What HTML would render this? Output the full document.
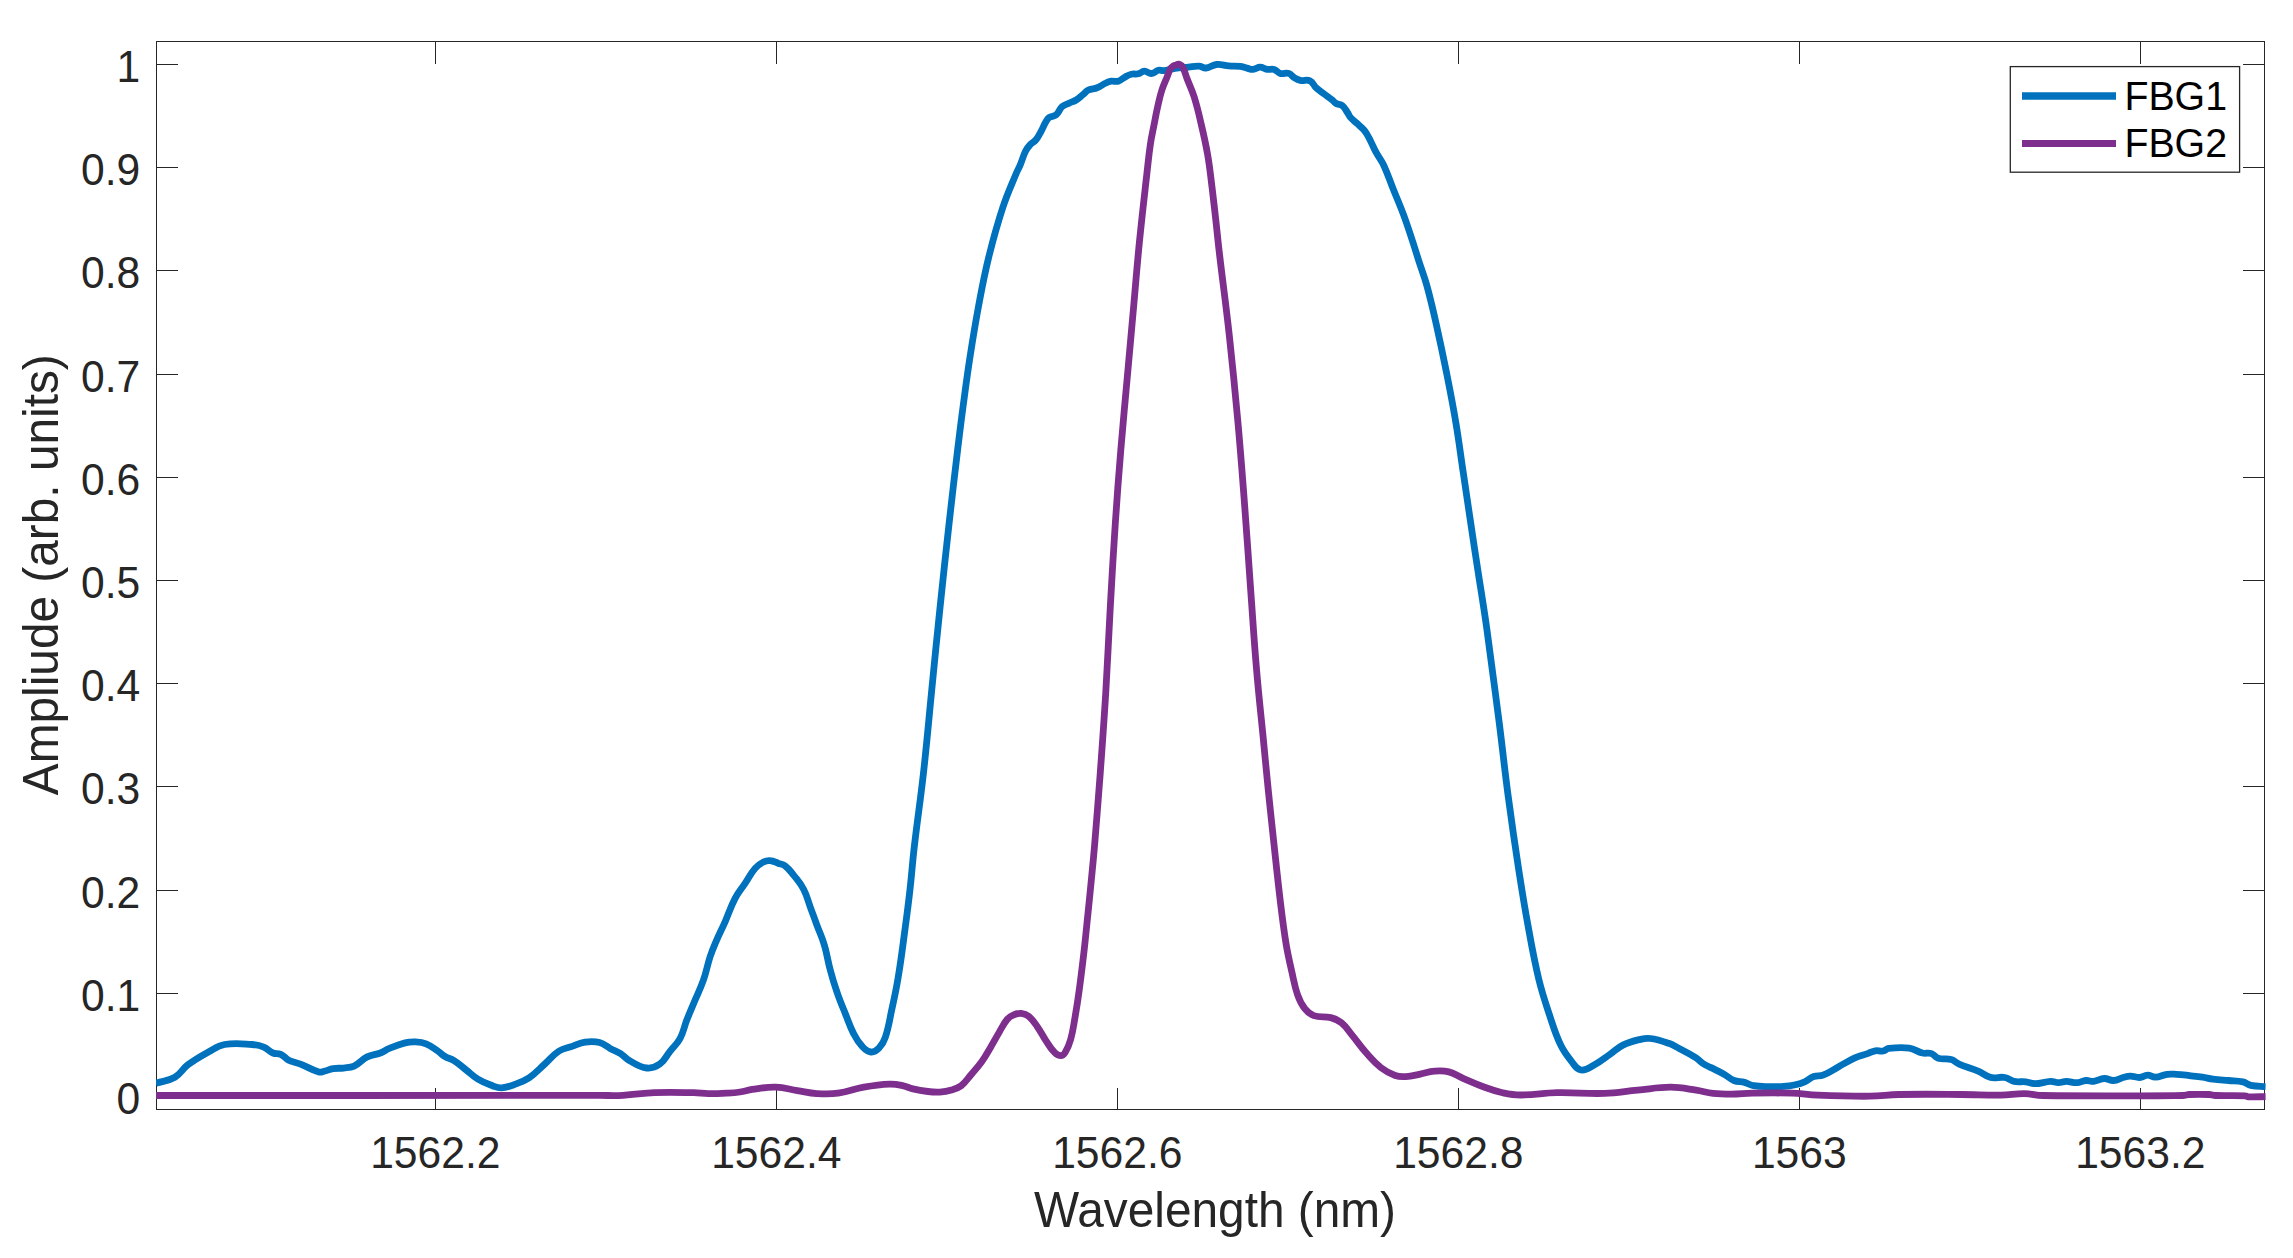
<!DOCTYPE html>
<html lang="en"><head><meta charset="utf-8"><title>FBG spectra</title>
<style>html,body{margin:0;padding:0;background:#fff;overflow:hidden;}svg{display:block;}text{font-family:"Liberation Sans",sans-serif;}</style></head><body>
<svg width="2293" height="1258" viewBox="0 0 2293 1258">
<rect x="0" y="0" width="2293" height="1258" fill="#ffffff"/>
<g stroke="#262626" stroke-width="1" fill="none" shape-rendering="crispEdges">
<rect x="156.5" y="41.5" width="2108.0" height="1068.0"/>
<path d="M435.3 1109.5 V1087.5 M435.3 41.5 V63.5"/>
<path d="M776.3 1109.5 V1087.5 M776.3 41.5 V63.5"/>
<path d="M1117.3 1109.5 V1087.5 M1117.3 41.5 V63.5"/>
<path d="M1458.3 1109.5 V1087.5 M1458.3 41.5 V63.5"/>
<path d="M1799.3 1109.5 V1087.5 M1799.3 41.5 V63.5"/>
<path d="M2140.3 1109.5 V1087.5 M2140.3 41.5 V63.5"/>
<path d="M156.5 1096.5 H178.0 M2264.5 1096.5 H2243.0"/>
<path d="M156.5 993.3 H178.0 M2264.5 993.3 H2243.0"/>
<path d="M156.5 890.1 H178.0 M2264.5 890.1 H2243.0"/>
<path d="M156.5 786.9 H178.0 M2264.5 786.9 H2243.0"/>
<path d="M156.5 683.7 H178.0 M2264.5 683.7 H2243.0"/>
<path d="M156.5 580.5 H178.0 M2264.5 580.5 H2243.0"/>
<path d="M156.5 477.3 H178.0 M2264.5 477.3 H2243.0"/>
<path d="M156.5 374.1 H178.0 M2264.5 374.1 H2243.0"/>
<path d="M156.5 270.9 H178.0 M2264.5 270.9 H2243.0"/>
<path d="M156.5 167.7 H178.0 M2264.5 167.7 H2243.0"/>
<path d="M156.5 64.5 H178.0 M2264.5 64.5 H2243.0"/>
</g>
<clipPath id="c"><rect x="156.0" y="41.5" width="2109.6" height="1068.0"/></clipPath>
<g clip-path="url(#c)" fill="none" stroke-width="6.8" stroke-linejoin="round" stroke-linecap="butt">
<path stroke="#0072BD" d="M155.5 1083.6 C155.9 1083.4 156.1 1083.2 156.5 1083.1 C163.5 1080.8 168.2 1081.1 174.9 1077.2 C181.1 1073.6 182.2 1069.1 187.9 1064.8 C195.8 1058.9 200.2 1056.5 208.9 1051.7 C214.9 1048.4 217.8 1045.6 224.6 1044.5 C235.5 1042.7 241.1 1043.8 252.1 1044.5 C256.9 1044.8 259.4 1045.3 263.8 1047.1 C267.8 1048.7 269.0 1051.3 273.0 1053.0 C275.9 1054.2 277.9 1053.0 280.8 1054.3 C284.4 1055.9 285.2 1058.4 288.7 1060.2 C293.2 1062.4 295.9 1062.3 300.5 1064.1 C307.9 1067.0 311.2 1069.7 318.8 1072.0 C320.8 1072.6 322.0 1071.8 324.0 1071.3 C327.7 1070.4 329.4 1069.3 333.2 1068.7 C337.3 1068.0 339.5 1068.5 343.6 1068.0 C347.8 1067.5 350.2 1067.9 354.1 1066.1 C359.9 1063.4 361.5 1059.8 367.2 1056.9 C372.1 1054.5 375.2 1055.0 380.3 1053.0 C384.1 1051.5 385.6 1049.9 389.4 1048.4 C395.6 1045.9 398.6 1044.5 405.1 1042.9 C409.2 1041.9 411.4 1041.7 415.6 1041.9 C419.9 1042.1 422.2 1042.2 426.1 1043.8 C431.2 1045.9 433.2 1047.9 437.8 1051.0 C440.8 1053.0 441.9 1054.7 445.0 1056.5 C448.6 1058.6 450.9 1058.6 454.4 1060.8 C459.4 1064.0 461.5 1066.3 466.2 1070.0 C470.9 1073.7 472.8 1076.1 477.9 1079.2 C483.3 1082.5 486.4 1083.5 492.3 1085.7 C495.9 1087.0 497.7 1088.0 501.5 1087.9 C506.4 1087.7 508.7 1086.7 513.3 1085.0 C519.8 1082.6 523.2 1081.6 529.0 1077.8 C535.9 1073.2 538.5 1069.6 544.7 1064.1 C550.5 1058.9 552.6 1055.2 559.1 1051.0 C563.7 1048.0 566.9 1048.2 572.1 1046.4 C577.3 1044.6 579.7 1042.9 585.2 1042.1 C590.9 1041.3 594.0 1041.1 599.6 1042.5 C604.3 1043.7 605.8 1046.1 610.1 1048.4 C614.2 1050.6 616.6 1051.1 620.6 1053.6 C624.5 1056.1 625.6 1058.6 629.7 1060.8 C636.2 1064.4 639.4 1067.2 646.7 1068.0 C652.1 1068.6 655.4 1067.3 659.8 1064.1 C665.1 1060.3 665.9 1056.4 670.0 1051.3 C674.0 1046.2 676.9 1044.3 680.0 1038.6 C683.7 1031.7 683.9 1027.6 686.7 1020.3 C689.9 1012.2 691.7 1008.3 695.0 1000.3 C698.4 992.3 700.5 988.4 703.4 980.2 C706.6 971.0 707.1 966.1 710.1 956.8 C712.1 950.7 713.4 947.7 715.9 941.8 C719.4 933.7 721.5 929.9 725.1 921.8 C729.2 912.5 730.4 907.4 735.1 898.4 C738.4 892.0 741.1 889.4 745.1 883.4 C749.1 877.4 750.4 873.9 755.1 868.4 C757.9 865.2 759.7 863.9 763.5 862.0 C765.9 860.8 767.5 860.4 770.2 860.7 C773.7 861.0 775.2 862.3 778.5 863.4 C781.2 864.3 782.9 864.2 785.2 865.9 C789.1 868.9 790.4 871.1 793.5 875.0 C797.8 880.5 800.4 883.0 803.6 889.2 C807.1 895.9 807.6 899.7 810.2 906.8 C812.9 914.1 814.2 917.8 816.9 925.1 C819.9 933.1 822.0 937.0 824.4 945.2 C827.3 955.0 827.6 960.3 830.3 970.2 C832.6 979.0 833.9 983.3 836.9 991.9 C839.9 1000.7 841.8 1005.0 845.3 1013.6 C848.5 1021.6 849.7 1025.9 853.6 1033.6 C856.4 1039.0 857.8 1041.8 862.0 1046.2 C864.9 1049.3 866.7 1051.5 871.0 1052.0 C874.5 1052.4 876.4 1050.7 878.9 1048.2 C882.4 1044.6 883.7 1042.2 885.3 1037.4 C888.9 1026.5 889.4 1020.7 891.8 1009.5 C894.6 996.7 896.1 990.3 898.2 977.3 C901.2 959.4 902.2 950.3 904.6 932.3 C906.9 915.2 908.1 906.6 910.0 889.4 C912.0 871.7 912.4 862.7 914.5 845.0 C917.8 816.4 920.2 802.3 923.4 773.7 C927.1 740.4 928.4 723.7 931.7 690.3 C935.0 656.9 936.6 640.2 940.1 606.8 C943.6 573.4 945.4 556.7 949.1 523.4 C952.4 494.0 954.1 479.3 957.6 450.0 C959.7 432.8 960.7 424.2 963.0 407.1 C965.7 387.0 966.9 377.0 970.0 357.0 C973.1 337.0 974.7 326.9 978.4 307.0 C982.2 286.9 983.9 276.8 988.8 256.9 C993.8 236.7 996.5 226.7 1003.0 206.9 C1007.5 193.3 1010.7 186.8 1016.2 173.5 C1017.6 170.0 1018.8 168.5 1020.2 165.0 C1022.5 159.5 1022.9 156.5 1025.5 151.2 C1026.8 148.5 1027.8 147.3 1029.8 145.1 C1032.0 142.7 1033.9 142.3 1036.0 139.8 C1038.6 136.7 1039.3 134.7 1041.2 131.1 C1043.1 127.6 1043.6 125.7 1045.6 122.3 C1046.8 120.2 1047.2 118.9 1049.1 117.5 C1051.5 115.8 1053.8 116.8 1056.1 114.9 C1059.3 112.3 1059.1 109.4 1062.2 106.6 C1064.5 104.5 1066.4 104.4 1069.2 103.1 C1072.0 101.8 1073.6 101.6 1076.2 100.0 C1079.2 98.1 1080.4 96.7 1083.2 94.4 C1085.3 92.7 1085.9 91.2 1088.4 90.0 C1091.7 88.5 1093.8 89.1 1097.2 87.8 C1100.9 86.3 1102.3 84.7 1105.9 83.0 C1107.9 82.0 1109.0 81.5 1111.2 81.2 C1114.0 80.8 1115.5 82.0 1118.2 81.2 C1121.3 80.2 1122.3 78.4 1125.2 76.9 C1127.6 75.6 1128.7 74.8 1131.3 74.2 C1134.0 73.6 1135.6 74.4 1138.3 73.8 C1140.9 73.2 1141.7 71.3 1144.4 71.2 C1147.3 71.1 1148.5 73.7 1151.4 73.5 C1154.5 73.3 1155.4 71.0 1158.4 70.3 C1160.4 69.8 1161.5 70.8 1163.6 70.6 C1168.2 70.0 1170.4 68.9 1175.0 68.3 C1180.4 67.5 1183.1 67.6 1188.5 67.1 C1192.7 66.7 1194.8 66.0 1199.0 66.2 C1201.9 66.3 1203.1 68.3 1206.0 68.0 C1210.4 67.6 1212.1 64.9 1216.5 64.5 C1221.4 64.0 1223.8 65.5 1228.7 65.9 C1233.2 66.3 1235.5 65.9 1240.0 66.4 C1242.9 66.7 1244.2 67.5 1247.0 68.1 C1249.4 68.7 1250.6 69.6 1253.1 69.4 C1256.0 69.2 1257.2 67.2 1260.1 67.2 C1263.0 67.2 1264.2 68.9 1267.1 69.4 C1269.9 69.8 1271.4 68.6 1274.1 69.4 C1276.9 70.3 1277.4 72.6 1280.2 73.4 C1283.6 74.3 1285.6 72.5 1289.0 73.5 C1291.6 74.3 1291.9 76.3 1294.2 77.7 C1296.5 79.1 1297.7 79.9 1300.3 80.4 C1304.1 81.1 1306.5 79.2 1310.0 80.8 C1313.4 82.4 1313.4 85.3 1316.1 87.8 C1319.0 90.5 1320.8 91.5 1324.0 93.9 C1327.1 96.2 1328.8 97.2 1331.8 99.6 C1333.6 101.1 1334.2 102.3 1336.2 103.5 C1338.4 104.8 1340.3 104.1 1342.3 105.7 C1345.0 107.9 1345.6 109.8 1347.6 112.7 C1348.8 114.4 1348.8 115.6 1350.2 117.1 C1352.7 120.0 1354.4 121.0 1357.2 123.6 C1360.0 126.2 1361.7 127.3 1364.2 130.2 C1366.3 132.7 1367.0 134.3 1368.6 137.2 C1369.8 139.2 1370.2 140.3 1371.2 142.4 C1373.3 146.6 1374.1 148.8 1376.4 152.9 C1379.1 157.8 1381.2 159.9 1383.6 165.0 C1387.9 174.3 1389.3 179.2 1393.1 188.7 C1397.3 199.2 1399.7 204.3 1403.6 214.9 C1407.4 225.2 1409.0 230.5 1412.5 241.0 C1415.0 248.6 1416.1 252.4 1418.5 260.0 C1421.7 270.0 1423.9 274.9 1426.7 285.0 C1430.9 300.2 1432.6 308.0 1436.1 323.4 C1440.6 343.4 1442.7 353.4 1446.7 373.5 C1450.7 393.5 1452.7 403.4 1456.0 423.5 C1459.3 443.5 1460.4 453.6 1463.4 473.6 C1466.4 493.6 1467.8 503.6 1470.8 523.6 C1473.8 543.6 1475.3 553.7 1478.4 573.7 C1481.5 593.7 1483.2 603.7 1486.1 623.8 C1487.9 636.3 1488.6 642.5 1490.3 655.0 C1493.9 682.3 1495.8 695.9 1499.3 723.2 C1503.0 752.4 1504.3 767.1 1508.2 796.3 C1512.1 825.6 1514.2 840.3 1518.7 869.5 C1522.1 891.5 1523.8 902.5 1527.8 924.4 C1531.8 946.4 1533.6 957.5 1538.8 979.3 C1542.4 994.2 1545.0 1001.4 1549.8 1015.9 C1553.7 1027.7 1555.3 1033.9 1560.7 1045.1 C1564.1 1052.3 1566.7 1055.4 1571.7 1061.6 C1574.8 1065.5 1576.0 1069.2 1580.9 1070.0 C1586.3 1070.9 1588.9 1067.9 1593.7 1065.3 C1600.7 1061.6 1603.6 1058.8 1610.1 1054.3 C1615.3 1050.7 1617.3 1047.9 1622.9 1045.1 C1629.1 1042.0 1632.6 1041.2 1639.4 1039.6 C1643.7 1038.6 1646.0 1037.9 1650.4 1038.5 C1657.9 1039.4 1661.6 1040.8 1668.7 1043.3 C1673.3 1044.9 1675.3 1046.5 1679.6 1048.8 C1686.3 1052.3 1689.7 1053.9 1696.1 1057.9 C1699.1 1059.8 1700.0 1061.5 1703.0 1063.5 C1705.8 1065.4 1707.5 1065.9 1710.5 1067.4 C1715.7 1070.0 1718.5 1071.1 1723.6 1073.9 C1727.9 1076.3 1729.4 1078.6 1734.0 1080.5 C1738.0 1082.1 1740.4 1081.3 1744.5 1082.4 C1748.2 1083.4 1749.8 1085.1 1753.6 1085.7 C1759.8 1086.8 1763.0 1086.5 1769.3 1086.6 C1775.1 1086.7 1778.0 1086.8 1783.7 1086.4 C1787.9 1086.1 1790.1 1085.9 1794.2 1085.0 C1798.5 1084.1 1800.7 1083.5 1804.7 1081.8 C1808.6 1080.1 1809.8 1077.9 1813.8 1076.5 C1817.3 1075.2 1819.5 1076.6 1823.0 1075.2 C1829.6 1072.6 1832.4 1070.1 1838.7 1066.7 C1845.0 1063.3 1847.9 1061.2 1854.4 1058.2 C1859.5 1055.9 1862.3 1055.5 1867.5 1053.6 C1870.6 1052.5 1872.0 1051.3 1875.3 1050.8 C1878.4 1050.3 1880.1 1051.6 1883.2 1051.0 C1885.5 1050.6 1886.1 1048.7 1888.4 1048.4 C1896.7 1047.5 1901.0 1047.0 1909.3 1048.1 C1914.8 1048.9 1917.0 1051.7 1922.4 1053.0 C1926.0 1053.9 1928.1 1052.4 1931.6 1053.6 C1934.6 1054.6 1935.0 1057.3 1938.1 1058.2 C1943.1 1059.7 1946.1 1058.1 1951.2 1059.5 C1954.7 1060.5 1955.7 1062.7 1959.1 1064.1 C1966.8 1067.4 1971.0 1068.0 1978.7 1071.3 C1983.6 1073.4 1985.3 1076.2 1990.5 1077.4 C1996.1 1078.7 1999.2 1076.5 2004.9 1077.5 C2008.8 1078.2 2010.1 1080.6 2014.0 1081.4 C2018.6 1082.4 2021.1 1081.3 2025.8 1081.8 C2029.5 1082.2 2031.2 1083.8 2035.0 1083.7 C2041.3 1083.6 2044.4 1081.7 2050.7 1081.4 C2053.9 1081.3 2055.3 1082.7 2058.5 1082.7 C2061.7 1082.7 2063.2 1081.4 2066.4 1081.4 C2070.6 1081.4 2072.6 1082.9 2076.8 1082.7 C2080.6 1082.5 2082.2 1080.8 2086.0 1080.5 C2089.1 1080.3 2090.7 1081.7 2093.8 1081.4 C2098.1 1080.9 2099.9 1078.7 2104.3 1078.5 C2108.1 1078.3 2109.7 1080.7 2113.5 1080.5 C2117.9 1080.2 2119.7 1078.3 2123.9 1077.2 C2126.5 1076.5 2127.8 1076.0 2130.5 1076.1 C2134.2 1076.2 2135.9 1077.7 2139.6 1077.5 C2142.9 1077.3 2144.2 1075.3 2147.5 1075.2 C2150.7 1075.1 2152.1 1077.3 2155.3 1077.2 C2160.2 1077.0 2162.3 1075.0 2167.1 1074.3 C2170.7 1073.8 2172.6 1074.1 2176.3 1074.3 C2181.5 1074.6 2184.1 1075.0 2189.3 1075.6 C2194.5 1076.2 2197.2 1076.4 2202.4 1077.2 C2206.6 1077.8 2208.7 1078.7 2212.9 1079.2 C2219.2 1080.0 2222.3 1080.0 2228.6 1080.5 C2234.4 1081.0 2237.3 1080.6 2243.0 1081.8 C2246.3 1082.5 2247.5 1084.6 2250.8 1085.3 C2256.8 1086.5 2260.5 1086.1 2266.0 1086.6"/>
<path stroke="#7E2F8E" d="M155.5 1095.5 C315.5 1095.5 431.7 1095.5 600.0 1095.4 C609.2 1095.4 613.8 1095.8 623.0 1095.3 C635.7 1094.7 641.9 1093.1 654.6 1092.6 C670.3 1092.0 678.1 1092.4 693.8 1092.7 C699.6 1092.8 702.4 1093.6 708.2 1093.7 C715.5 1093.8 719.2 1093.6 726.5 1093.2 C731.9 1092.9 734.6 1092.8 740.0 1092.0 C745.0 1091.3 747.3 1090.1 752.3 1089.4 C761.7 1088.1 766.4 1086.9 775.9 1087.2 C784.6 1087.4 788.7 1089.3 797.3 1090.6 C805.1 1091.8 808.9 1093.1 816.7 1093.6 C825.2 1094.1 829.6 1094.4 838.1 1093.2 C848.6 1091.8 853.5 1089.0 863.9 1087.2 C874.1 1085.4 879.3 1084.6 889.6 1084.2 C894.8 1084.0 897.4 1084.6 902.5 1085.6 C906.8 1086.5 908.6 1087.9 912.9 1088.9 C918.8 1090.3 921.9 1090.8 927.9 1091.5 C932.6 1092.1 935.0 1092.4 939.7 1092.1 C944.5 1091.8 946.9 1091.4 951.5 1090.0 C955.6 1088.8 957.8 1088.3 961.2 1085.7 C965.7 1082.2 967.1 1079.4 970.8 1075.0 C975.2 1069.9 977.6 1067.5 981.5 1062.1 C985.3 1056.8 986.8 1053.8 990.1 1048.2 C993.6 1042.2 995.2 1039.1 998.7 1033.1 C1002.0 1027.5 1003.1 1024.2 1007.3 1019.2 C1009.3 1016.8 1010.9 1016.1 1013.7 1014.9 C1016.5 1013.7 1018.2 1013.1 1021.2 1013.4 C1024.5 1013.7 1026.3 1014.3 1028.8 1016.4 C1032.9 1019.8 1034.2 1022.3 1037.3 1026.7 C1041.1 1032.0 1042.3 1035.2 1045.9 1040.6 C1049.1 1045.5 1050.4 1048.3 1054.5 1052.4 C1056.5 1054.4 1058.0 1055.7 1060.9 1055.7 C1063.1 1055.7 1064.1 1054.3 1065.2 1052.4 C1068.1 1047.6 1069.1 1044.9 1070.6 1039.6 C1073.0 1031.2 1073.4 1026.7 1074.9 1018.1 C1076.8 1007.0 1077.7 1001.4 1079.2 990.2 C1081.1 976.5 1081.9 969.6 1083.5 955.9 C1085.4 939.6 1086.1 931.4 1087.8 915.1 C1089.6 897.9 1090.4 889.4 1092.1 872.2 C1093.2 861.3 1093.7 855.9 1094.6 845.0 C1096.9 816.5 1098.1 802.2 1100.2 773.7 C1102.6 740.4 1103.9 723.7 1105.9 690.3 C1107.9 656.9 1108.4 640.2 1110.3 606.8 C1112.2 573.4 1113.1 556.7 1115.3 523.4 C1117.3 494.0 1118.4 479.3 1120.8 450.0 C1123.3 419.5 1124.9 404.2 1127.6 373.7 C1130.0 347.0 1131.2 333.7 1133.6 307.0 C1136.0 280.3 1136.9 266.9 1139.6 240.2 C1142.3 213.5 1143.9 200.2 1146.9 173.5 C1148.3 161.5 1148.7 155.5 1150.5 143.5 C1151.6 136.0 1152.6 132.4 1154.0 125.0 C1155.4 118.0 1155.9 114.5 1157.5 107.5 C1159.1 100.5 1159.7 96.9 1161.9 90.0 C1163.6 84.6 1165.0 82.1 1167.1 76.9 C1168.4 73.7 1168.7 72.0 1170.3 69.0 C1171.1 67.6 1171.7 67.1 1173.0 66.2 C1174.1 65.5 1174.8 65.4 1176.0 65.0 C1177.1 64.6 1177.6 64.1 1178.8 64.2 C1180.0 64.3 1180.6 64.7 1181.5 65.5 C1182.6 66.6 1183.0 67.4 1183.6 68.8 C1185.2 72.6 1185.6 74.7 1187.0 78.5 C1189.8 85.9 1191.8 89.4 1194.2 97.0 C1197.3 106.9 1198.4 111.9 1200.7 122.0 C1203.8 135.1 1205.4 141.7 1207.7 155.0 C1210.0 168.4 1210.5 175.2 1212.2 188.7 C1213.9 202.6 1214.6 209.6 1216.2 223.6 C1217.6 236.2 1218.1 242.5 1219.6 255.0 C1223.4 287.2 1225.8 303.2 1229.3 335.4 C1233.0 369.5 1234.7 386.6 1237.8 420.8 C1240.9 455.0 1242.1 472.1 1244.7 506.3 C1247.3 540.4 1248.3 557.5 1250.8 591.7 C1253.1 623.0 1253.9 638.7 1256.6 670.0 C1258.8 696.3 1260.4 709.4 1263.0 735.7 C1265.2 758.0 1266.1 769.1 1268.4 791.4 C1270.7 813.7 1271.9 824.8 1274.3 847.1 C1276.7 869.4 1277.8 880.5 1280.5 902.8 C1282.5 919.6 1283.5 928.0 1286.2 944.6 C1288.1 955.8 1289.5 961.4 1292.0 972.5 C1294.0 981.5 1294.5 986.1 1297.6 994.8 C1299.7 1000.7 1301.0 1003.8 1304.8 1008.7 C1307.6 1012.3 1309.5 1014.1 1313.8 1015.6 C1320.3 1017.8 1324.2 1015.9 1330.8 1017.6 C1335.5 1018.8 1337.9 1019.8 1341.6 1022.9 C1346.7 1027.1 1348.1 1030.3 1352.3 1035.4 C1358.1 1042.5 1360.5 1046.4 1366.6 1053.3 C1372.0 1059.3 1374.5 1062.6 1380.9 1067.6 C1386.1 1071.6 1389.1 1073.3 1395.2 1075.5 C1399.2 1077.0 1401.6 1076.8 1405.9 1076.6 C1411.7 1076.3 1414.5 1075.2 1420.2 1074.1 C1425.9 1073.0 1428.7 1071.6 1434.5 1071.2 C1440.2 1070.8 1443.2 1070.5 1448.8 1071.9 C1454.9 1073.4 1457.3 1075.9 1463.1 1078.4 C1471.7 1082.1 1475.9 1084.1 1484.6 1087.3 C1491.6 1089.9 1495.2 1091.1 1502.5 1092.7 C1509.6 1094.2 1513.2 1095.0 1520.5 1095.0 C1535.2 1095.0 1542.4 1093.0 1557.1 1092.7 C1576.1 1092.3 1585.6 1094.0 1604.6 1093.4 C1617.9 1093.0 1624.4 1091.3 1637.6 1090.1 C1650.8 1088.9 1657.3 1087.2 1670.5 1087.2 C1680.8 1087.2 1685.9 1088.6 1696.1 1090.1 C1702.9 1091.1 1706.2 1092.6 1713.0 1093.4 C1720.3 1094.2 1724.0 1094.2 1731.4 1094.2 C1739.8 1094.2 1743.9 1093.3 1752.3 1093.2 C1768.0 1092.9 1775.9 1092.7 1791.6 1093.2 C1802.1 1093.5 1807.3 1094.8 1817.8 1095.2 C1838.7 1096.0 1849.2 1096.4 1870.1 1096.2 C1881.6 1096.1 1887.4 1094.7 1898.9 1094.5 C1924.0 1094.0 1936.6 1094.3 1961.7 1094.5 C1977.4 1094.6 1985.3 1095.4 2001.0 1095.2 C2010.4 1095.1 2015.1 1093.5 2024.5 1093.6 C2031.9 1093.7 2035.4 1095.4 2042.8 1095.5 C2098.8 1096.2 2130.1 1095.9 2182.8 1095.5 C2185.4 1095.5 2186.7 1094.6 2189.3 1094.5 C2197.2 1094.2 2201.1 1094.2 2209.0 1094.5 C2211.6 1094.6 2212.9 1095.4 2215.5 1095.5 C2227.5 1095.9 2233.8 1095.3 2245.6 1095.8 C2246.7 1095.8 2247.1 1096.8 2248.2 1096.8 C2255.3 1097.1 2259.6 1096.7 2266.0 1096.6"/>
</g>
<text transform="translate(435.3 1167.6) scale(1 1.040)" text-anchor="middle" font-size="42.6" fill="#262626">1562.2</text>
<text transform="translate(776.3 1167.6) scale(1 1.040)" text-anchor="middle" font-size="42.6" fill="#262626">1562.4</text>
<text transform="translate(1117.3 1167.6) scale(1 1.040)" text-anchor="middle" font-size="42.6" fill="#262626">1562.6</text>
<text transform="translate(1458.3 1167.6) scale(1 1.040)" text-anchor="middle" font-size="42.6" fill="#262626">1562.8</text>
<text transform="translate(1799.3 1167.6) scale(1 1.040)" text-anchor="middle" font-size="42.6" fill="#262626">1563</text>
<text transform="translate(2140.3 1167.6) scale(1 1.040)" text-anchor="middle" font-size="42.6" fill="#262626">1563.2</text>
<text transform="translate(140.3 1113.9) scale(1 1.040)" text-anchor="end" font-size="42.6" fill="#262626">0</text>
<text transform="translate(140.3 1010.7) scale(1 1.040)" text-anchor="end" font-size="42.6" fill="#262626">0.1</text>
<text transform="translate(140.3 907.5) scale(1 1.040)" text-anchor="end" font-size="42.6" fill="#262626">0.2</text>
<text transform="translate(140.3 804.3) scale(1 1.040)" text-anchor="end" font-size="42.6" fill="#262626">0.3</text>
<text transform="translate(140.3 701.1) scale(1 1.040)" text-anchor="end" font-size="42.6" fill="#262626">0.4</text>
<text transform="translate(140.3 597.9) scale(1 1.040)" text-anchor="end" font-size="42.6" fill="#262626">0.5</text>
<text transform="translate(140.3 494.7) scale(1 1.040)" text-anchor="end" font-size="42.6" fill="#262626">0.6</text>
<text transform="translate(140.3 391.5) scale(1 1.040)" text-anchor="end" font-size="42.6" fill="#262626">0.7</text>
<text transform="translate(140.3 288.3) scale(1 1.040)" text-anchor="end" font-size="42.6" fill="#262626">0.8</text>
<text transform="translate(140.3 185.1) scale(1 1.040)" text-anchor="end" font-size="42.6" fill="#262626">0.9</text>
<text transform="translate(140.3 81.9) scale(1 1.040)" text-anchor="end" font-size="42.6" fill="#262626">1</text>
<text transform="translate(1215.0 1226.8) scale(1 1.040)" text-anchor="middle" font-size="47.8" fill="#262626">Wavelength (nm)</text>
<text transform="translate(57.6 574.7) rotate(-90) scale(1 1.040)" text-anchor="middle" font-size="47.8" fill="#262626">Ampliude (arb. units)</text>
<rect x="2010.3" y="66.6" width="229.3" height="105.6" fill="#fff" stroke="#262626" stroke-width="1.3"/>
<path d="M2022 96 H2116" stroke="#0072BD" stroke-width="7.5" fill="none"/>
<path d="M2022 143.4 H2116" stroke="#7E2F8E" stroke-width="7" fill="none"/>
<text transform="translate(2124.4 110.0) scale(1 1.040)" text-anchor="start" font-size="39.3" fill="#000">FBG1</text>
<text transform="translate(2124.4 156.8) scale(1 1.040)" text-anchor="start" font-size="39.3" fill="#000">FBG2</text>
</svg></body></html>
